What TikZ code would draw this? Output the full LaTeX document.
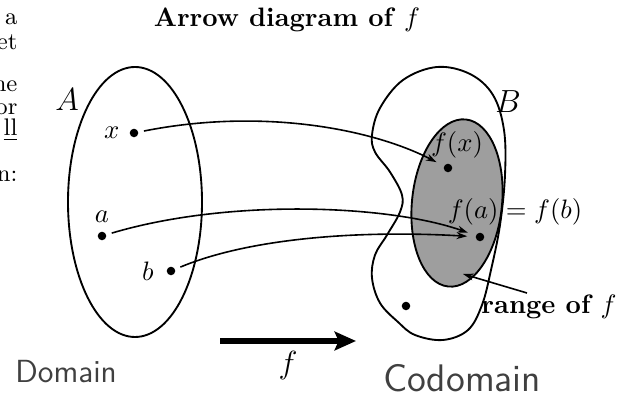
\documentclass[tikz,border=0pt]{standalone}
\usepackage{amssymb}
\usepackage{amsmath}
\usepackage{xcolor}
\usepackage{tikz}
\usetikzlibrary{arrows.meta,positioning,calc}

\begin{document}
\begin{tikzpicture}[
  x=0.375pt, y=-0.375pt,
  setline/.style={line width=0.7pt},
  rangeset/.style={setline, fill=black!38},
  pt/.style={circle, fill, inner sep=0pt, minimum size=3.2pt},
  lbl/.style={inner sep=1pt},
  setname/.style={font=\large, inner sep=1pt},
  map/.style={-{Stealth[length=4pt,width=2.6pt]}, line width=0.6pt,
    shorten <=2pt, shorten >=3pt},
  bigarr/.style={-{Stealth[length=8pt,width=7pt,inset=1.5pt]},
    line width=2.6pt},
  hand/.style={font=\sffamily\Large, text=black!75},
  cut/.style={anchor=base east, inner sep=0pt, font=\small},
]
\useasboundingbox (0,0) rectangle (619,401);

% text of the page, cut off at the left
\node[cut] (c1) at (18,25) {a};
\node[cut] (c2) at (18,50) {et};
\node[cut] (c3) at (18,92) {he};
\node[cut] (c4) at (18,115) {or};
\node[cut] (c5) at (18,136) {\underline{ll}};
\node[cut] (c6) at (18,182) {n:};

\node (title) at (287,20) {\textbf{Arrow diagram of} $f$};

% the two sets
\draw[setline] (135,202) ellipse [x radius=67, y radius=135];
\draw[rangeset, rotate around={-6:(457,203)}] (457,203)
  ellipse [x radius=45, y radius=84];
\draw[setline] plot[smooth cycle, tension=0.6] coordinates {
  (437,67) (470,74) (493,95) (504,130) (505,175) (500,225) (491,270)
  (482,305) (468,330) (443,340) (415,335) (398,322) (380,303) (372,278)
  (375,255) (387,235) (400,212) (402,195) (390,172) (375,152) (372,135)
  (380,108) (403,80)};

\node[setname] (A) at (67,100) {$A$};
\node[setname] (B) at (508,102) {$B$};

% points
\node[pt] (xpt) at (134,133) {};
\node[pt] (apt) at (102,236) {};
\node[pt] (bpt) at (171,271) {};
\node[pt] (fxpt) at (448,168) {};
\node[pt] (fapt) at (480,237) {};
\node[pt] (lonept) at (406,306) {};

\node[lbl, left=2.5pt of xpt] {$x$};
\node[lbl, above=2pt of apt] {$a$};
\node[lbl, left=3.5pt of bpt] {$b$};
\node[lbl] (fxlbl) at (457,145) {$f(x)$};
\node[lbl] (falbl) at (515,212) {$f(a) = f(b)$};

\draw[map] (xpt) .. controls (260,108) and (370,128) .. (fxpt);
\draw[map] (apt) .. controls (230,198) and (390,205) .. (fapt);
\draw[map] (bpt) .. controls (250,238) and (360,230) .. (fapt);

\node[font=\bfseries] (rangelbl) at (549,307) {range of $f$};
\coordinate (rangetail) at (527,293);
\coordinate (rangetip) at (463,274);
\draw[map, shorten <=0pt, shorten >=0pt] (rangetail) -- (rangetip);

% f : domain -> codomain
\coordinate (mapstart) at (220,341);
\coordinate (mapend) at (356,341);
\draw[bigarr] (mapstart) -- (mapend)
  node[midway, below=1.5pt, inner sep=1pt, font=\large] {$f$};

\node[hand, font=\sffamily\large] (dom) at (66,372) {Domain};
\node[hand] (codom) at (462,378) {Codomain};

\end{tikzpicture}
\end{document}
